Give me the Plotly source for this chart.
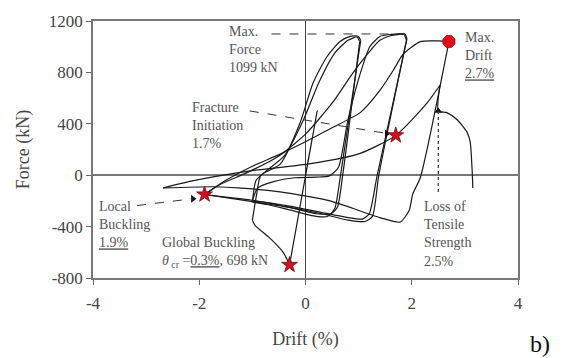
import plotly.graph_objects as go

# Brace hysteresis: drift (%) vs axial force (kN), branch by branch
drift_elastic = [0.0, 0.22, -0.30]
force_elastic = [0, 500, -698]

drift_buckle = [-0.30, -0.42, -0.67, -0.95, -1.00]
force_buckle = [-698, -600, -490, -390, -350]

drift_r1 = [-1.00, -0.92, -0.84, -0.48, -0.10, 0.14, 0.40, 0.65, 0.84, 0.99, 1.04]
force_r1 = [-350, -150, 0, 84, 410, 715, 920, 1040, 1080, 1082, 1050]

drift_u1 = [1.04, 0.66, 0.55, 0.42, 0.20, -0.30, -0.70, -1.00]
force_u1 = [1050, 0, -260, -320, -320, -270, -230, -210]

drift_r2 = [-1.00, -0.93, -0.75, -0.40, -0.05, 0.25, 0.55, 0.80, 0.97, 1.02]
force_r2 = [-210, -40, 30, 150, 420, 720, 950, 1050, 1075, 1040]

drift_u2 = [1.02, 0.70, 0.60, 0.48, 0.20, -0.30, -0.70, -1.00]
force_u2 = [1040, 0, -250, -300, -300, -250, -215, -200]

drift_r3 = [-1.00, -0.90, -0.60, -0.20, 0.20, 0.45, 0.62, 0.80, 1.03, 1.21, 1.40, 1.60, 1.87, 1.91]
force_r3 = [-200, -100, -50, -20, -15, -5, 60, 430, 790, 1000, 1080, 1095, 1099, 1060]

drift_u3 = [1.91, 1.35, 1.20, 1.08, 0.80, 0.30, -0.30, -1.00, -1.50, -1.90]
force_u3 = [1060, 0, -300, -340, -330, -290, -240, -195, -170, -150]

drift_r4 = [-1.90, -1.60, -1.10, -0.50, 0.00, 0.50, 0.90, 1.20, 1.40, 1.60, 1.85, 1.90]
force_r4 = [-150, -70, 20, 150, 320, 560, 800, 960, 1050, 1085, 1095, 1050]

drift_u4 = [1.90, 1.38, 1.26, 1.12, 0.80, 0.30, -0.30, -1.00, -1.50, -1.90]
force_u4 = [1050, 0, -320, -360, -350, -300, -250, -205, -175, -150]

drift_r5 = [-1.90, -1.50, -1.00, -0.50, 0.00, 0.50, 1.03, 1.40, 1.65, 1.84, 2.16, 2.50, 2.70]
force_r5 = [-150, -40, 70, 160, 260, 370, 487, 660, 815, 943, 1040, 1045, 1040]

drift_u5 = [2.70, 2.16, 2.02, 1.95, 1.78, 1.40, 0.46, -0.48, -1.20, -1.74, -2.68]
force_u5 = [1040, -20, -145, -275, -365, -330, -200, -130, -100, -90, -99]

drift_r6 = [-2.68, -2.20, -1.10, 0.10, 1.03, 1.70, 2.29, 2.53]
force_r6 = [-99, -50, 30, 90, 170, 310, 563, 700]

drift_loss = [2.53, 2.50, 2.66, 2.85, 3.04, 3.10, 3.14, 3.15]
force_loss = [700, 500, 487, 433, 335, 259, 8, -99]

branches = [
    (drift_elastic, force_elastic), (drift_buckle, force_buckle),
    (drift_r1, force_r1), (drift_u1, force_u1),
    (drift_r2, force_r2), (drift_u2, force_u2),
    (drift_r3, force_r3), (drift_u3, force_u3),
    (drift_r4, force_r4), (drift_u4, force_u4),
    (drift_r5, force_r5), (drift_u5, force_u5),
    (drift_r6, force_r6), (drift_loss, force_loss),
]

# Key events
max_force = 1099
global_buckling = (-0.3, -698)
local_buckling = (-1.9, -150)
fracture_init = (1.7, 310)
max_drift = (2.7, 1040)
loss_tensile = (2.5, 500)

x_ticks = [-4, -2, 0, 2, 4]
x_labels = ["-4", "-2", "0", "2", "4"]
y_ticks = [-800, -400, 0, 400, 800, 1200]
y_labels = ["-800", "-400", "0", "400", "800", "1200"]

SERIF = "Liberation Serif, Times New Roman, serif"
TXT = "#555555"

fig = go.Figure()
for dx, fy in branches:
    fig.add_trace(go.Scatter(
        x=dx, y=fy, mode="lines",
        line=dict(color="#1a1a1a", width=1.2, shape="spline", smoothing=0.6),
        hoverinfo="skip"))

# dashed leader lines
fig.add_shape(type="line", x0=-0.64, x1=1.87, y0=max_force, y1=max_force,
              line=dict(color="#333", width=1, dash="dash"))
fig.add_shape(type="line", x0=-1.05, x1=1.53, y0=500, y1=325,
              line=dict(color="#333", width=1, dash="dash"))
fig.add_shape(type="line", x0=-3.17, x1=-2.12, y0=-236, y1=-183,
              line=dict(color="#333", width=1, dash="dash"))
fig.add_shape(type="line", x0=loss_tensile[0], x1=loss_tensile[0], y0=loss_tensile[1], y1=-150,
              line=dict(color="#333", width=1.2, dash="dot"))

# arrow heads and the loss-of-strength marker
fig.add_trace(go.Scatter(x=[1.53, -2.12], y=[325, -183], mode="markers",
                         marker=dict(symbol="triangle-right", size=7, color="#111"),
                         hoverinfo="skip"))
fig.add_trace(go.Scatter(x=[loss_tensile[0]], y=[loss_tensile[1]], mode="markers",
                         marker=dict(symbol="triangle-up", size=7, color="#111"),
                         hoverinfo="skip"))

# event stars
sx = [global_buckling[0], local_buckling[0], fracture_init[0]]
sy = [global_buckling[1], local_buckling[1], fracture_init[1]]
fig.add_trace(go.Scatter(x=sx, y=sy, mode="markers",
                         marker=dict(symbol="star", size=12, color="#d01020",
                                     line=dict(color="#701010", width=0.8)),
                         hoverinfo="skip"))
fig.add_trace(go.Scatter(x=[max_drift[0]], y=[max_drift[1]], mode="markers",
                         marker=dict(symbol="octagon", size=13, color="#e0101a",
                                     line=dict(color="#901010", width=0.8)),
                         hoverinfo="skip"))

notes = [
    (-1.47, 1192, "Max.<br>Force<br>1099 kN"),
    (-2.17, 598, "Fracture<br>Initiation<br>1.7%"),
    (2.96, 1148, "Max.<br>Drift<br><u>2.7%</u>"),
    (-3.93, -168, "Local<br>Buckling<br><u>1.9%</u>"),
    (-2.74, -449, "Global Buckling<br><i>θ</i><sub> cr</sub> =<u>0.3%</u>, 698 kN"),
    (2.2, -168, "Loss of<br>Tensile<br>Strength<br>2.5%"),
]
for x, y, t in notes:
    fig.add_annotation(x=x, y=y, xref="x", yref="y", text=t, showarrow=False,
                       xanchor="left", yanchor="top", align="left",
                       font=dict(family=SERIF, size=14, color=TXT))

fig.add_annotation(x=1.052, y=-0.255, xref="paper", yref="paper", text="b)",
                   showarrow=False, xanchor="center", yanchor="middle",
                   font=dict(family=SERIF, size=24, color="#111"))

axis_common = dict(showgrid=False, ticks="outside", ticklen=5, tickcolor="#666",
                   showline=True, linecolor="#777", linewidth=1.5, mirror=True,
                   tickfont=dict(family=SERIF, size=17, color="#444"))
fig.update_xaxes(range=[-4, 4], tickvals=x_ticks, ticktext=x_labels, zeroline=True,
                 zerolinecolor="#444", zerolinewidth=1, ticklabelstandoff=4,
                 title=dict(text="Drift (%)", standoff=20,
                            font=dict(family=SERIF, size=18, color="#444")),
                 **axis_common)
fig.update_yaxes(range=[-800, 1200], tickvals=y_ticks, ticktext=y_labels, zeroline=True,
                 zerolinecolor="#777", zerolinewidth=2,
                 title=dict(text="Force (kN)", font=dict(family=SERIF, size=18, color="#444")),
                 **axis_common)

fig.update_layout(width=565, height=358, margin=dict(l=93, r=47, t=16, b=79),
                  plot_bgcolor="white", paper_bgcolor="white", showlegend=False,
                  font=dict(family=SERIF))

fig.write_html("out.html")
